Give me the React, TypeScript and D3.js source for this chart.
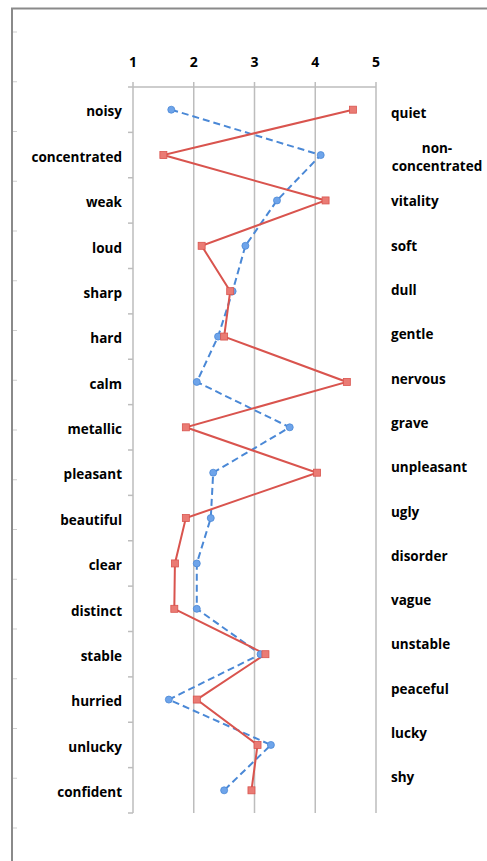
import React, { useEffect, useRef } from "react";
import * as d3 from "d3";

const leftLabels = [
  "noisy", "concentrated", "weak", "loud", "sharp", "hard", "calm", "metallic",
  "pleasant", "beautiful", "clear", "distinct", "stable", "hurried", "unlucky", "confident",
];
const rightLabels = [
  "quiet", "non-\nconcentrated", "vitality", "soft", "dull", "gentle", "nervous", "grave",
  "unpleasant", "ugly", "disorder", "vague", "unstable", "peaceful", "lucky", "shy",
];
const redValues = [4.62, 1.5, 4.17, 2.13, 2.6, 2.5, 4.52, 1.87, 4.03, 1.87, 1.69, 1.68, 3.18, 2.05, 3.05, 2.95];
const blueValues = [1.63, 4.09, 3.37, 2.85, 2.64, 2.4, 2.05, 3.58, 2.32, 2.28, 2.05, 2.05, 3.1, 1.59, 3.27, 2.5];
const ticks = [1, 2, 3, 4, 5];

const App = () => {
  const svgRef = useRef<SVGSVGElement>(null);

  useEffect(() => {
    const width = 487;
    const height = 861;
    const svg = d3.select(svgRef.current);
    svg.selectAll("*").remove();
    svg.attr("width", width).attr("height", height);

    const font = "'Open Sans', sans-serif";
    const grid = "#bdbdbd";
    const labelSize = "13.5px";

    // page frame with ruler marks
    svg.append("path")
      .attr("d", `M12,${height} L12,8.5 L${width},8.5`)
      .attr("fill", "none")
      .attr("stroke", "#8a8a8a")
      .attr("stroke-width", 2);
    svg.selectAll(".ruler")
      .data(d3.range(17))
      .join("line")
      .attr("x1", 13)
      .attr("x2", 17)
      .attr("y1", (i) => 32 + i * 49.75)
      .attr("y2", (i) => 32 + i * 49.75)
      .attr("stroke", "#cfcfcf")
      .attr("stroke-width", 1);

    const x = d3.scaleLinear().domain([1, 5]).range([133, 376]);
    const y = d3.scaleBand<string>().domain(leftLabels).range([87, 813]);
    const yRight = d3.scalePoint<string>().domain(rightLabels).range([113, 777.7]);
    const yc = (i: number) => (y(leftLabels[i]) as number) + y.bandwidth() / 2;

    // vertical gridlines
    svg.selectAll(".grid")
      .data(ticks.slice(1))
      .join("line")
      .attr("x1", (d) => x(d))
      .attr("x2", (d) => x(d))
      .attr("y1", 82)
      .attr("y2", 813)
      .attr("stroke", grid)
      .attr("stroke-width", 1.5);

    // top axis
    svg.append("line")
      .attr("x1", x(1)).attr("x2", x(5))
      .attr("y1", 87).attr("y2", 87)
      .attr("stroke", grid).attr("stroke-width", 1.5);
    svg.append("line")
      .attr("x1", x(1)).attr("x2", x(1))
      .attr("y1", 82).attr("y2", 87)
      .attr("stroke", grid).attr("stroke-width", 1.5);
    svg.selectAll(".xt")
      .data(ticks)
      .join("text")
      .attr("x", (d) => x(d))
      .attr("y", 67)
      .attr("text-anchor", "middle")
      .style("font-family", font)
      .style("font-weight", 700)
      .style("font-size", "14px")
      .text((d) => d);

    // left axis
    svg.append("line")
      .attr("x1", x(1)).attr("x2", x(1))
      .attr("y1", 87).attr("y2", 813)
      .attr("stroke", grid).attr("stroke-width", 1.5);
    svg.selectAll(".yt")
      .data(d3.range(leftLabels.length + 1))
      .join("line")
      .attr("x1", x(1) - 5)
      .attr("x2", x(1))
      .attr("y1", (i) => 87 + i * y.step())
      .attr("y2", (i) => 87 + i * y.step())
      .attr("stroke", grid)
      .attr("stroke-width", 1.5);

    svg.selectAll(".ll")
      .data(leftLabels)
      .join("text")
      .attr("x", 122)
      .attr("y", (d) => (y(d) as number) + y.bandwidth() / 2 + 2)
      .attr("dy", "0.35em")
      .attr("text-anchor", "end")
      .style("font-family", font)
      .style("font-weight", 700)
      .style("font-size", labelSize)
      .text((d) => d);

    rightLabels.forEach((lab) => {
      const parts = lab.split("\n");
      const cy = yRight(lab) as number;
      if (parts.length === 1) {
        svg.append("text")
          .attr("x", 391)
          .attr("y", cy)
          .attr("dy", "0.35em")
          .style("font-family", font)
          .style("font-weight", 700)
          .style("font-size", labelSize)
          .text(lab);
      } else {
        const t = svg.append("text")
          .attr("x", 437)
          .attr("y", cy - 9)
          .attr("text-anchor", "middle")
          .style("font-family", font)
          .style("font-weight", 700)
          .style("font-size", labelSize);
        parts.forEach((p, k) => {
          t.append("tspan").attr("x", 437).attr("dy", k === 0 ? "0.35em" : "1.3em").text(p);
        });
      }
    });

    const line = d3.line<number>()
      .x((d) => x(d))
      .y((_, i) => yc(i));

    svg.append("path")
      .datum(blueValues)
      .attr("d", line)
      .attr("fill", "none")
      .attr("stroke", "#4a88d6")
      .attr("stroke-width", 2)
      .attr("stroke-dasharray", "7,4");

    svg.append("path")
      .datum(redValues)
      .attr("d", line)
      .attr("fill", "none")
      .attr("stroke", "#d9544e")
      .attr("stroke-width", 2);

    svg.selectAll(".bm")
      .data(blueValues)
      .join("circle")
      .attr("cx", (d) => x(d))
      .attr("cy", (_, i) => yc(i))
      .attr("r", 3.5)
      .attr("fill", "#6ea4ea")
      .attr("stroke", "#4a88d6")
      .attr("stroke-width", 0.8);

    svg.selectAll(".rm")
      .data(redValues)
      .join("rect")
      .attr("x", (d) => x(d) - 3.5)
      .attr("y", (_, i) => yc(i) - 3.5)
      .attr("width", 7)
      .attr("height", 7)
      .attr("fill", "#ea7b74")
      .attr("stroke", "#d9544e")
      .attr("stroke-width", 0.8);
  }, []);

  return (
    <svg
      ref={svgRef}
      style={{ position: "absolute", left: 0, top: 0, background: "#fff" }}
    ></svg>
  );
};

export default App;
